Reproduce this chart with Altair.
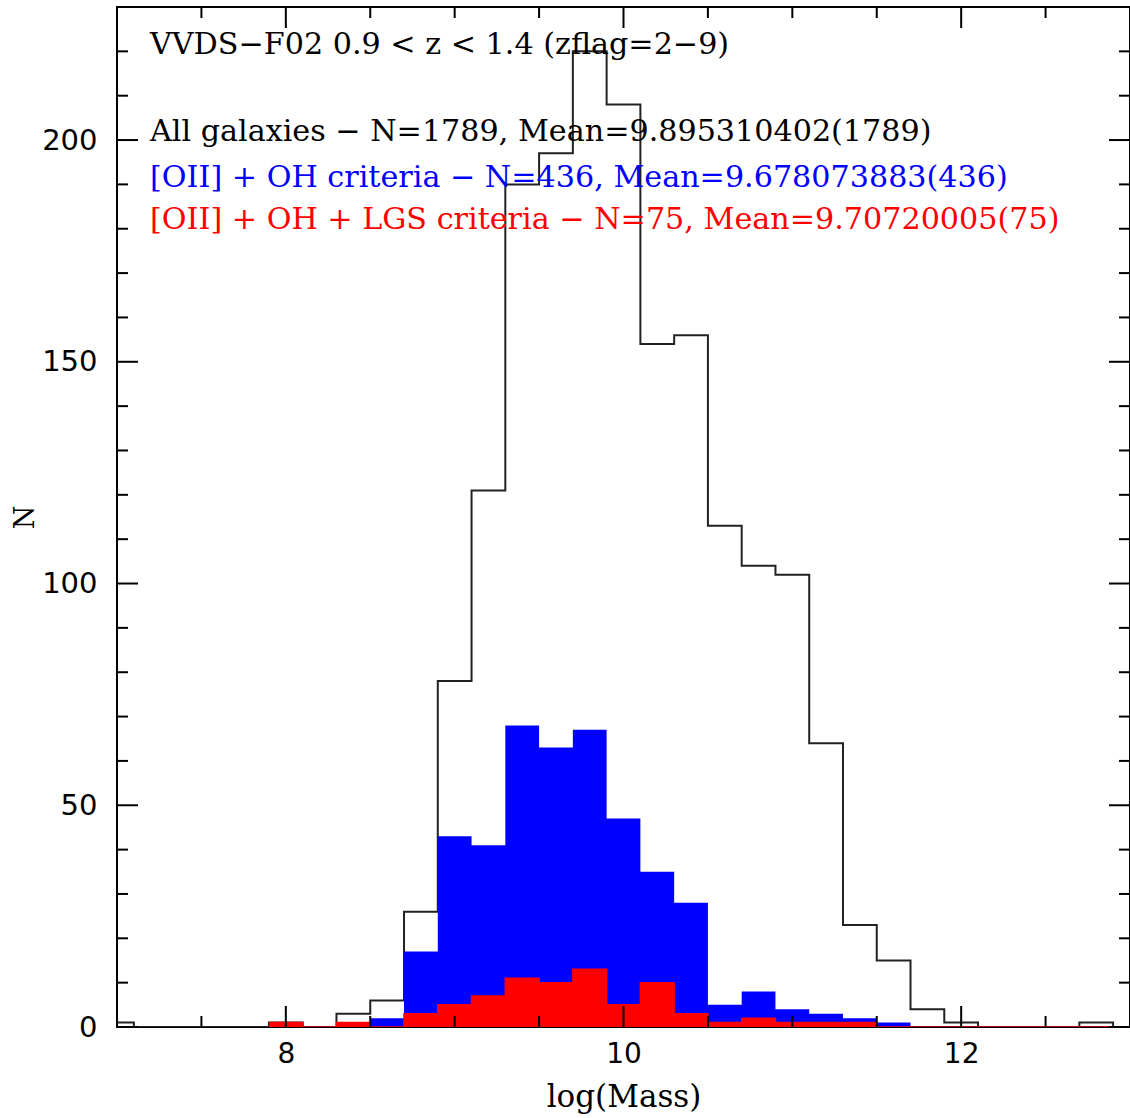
import altair as alt
import pandas as pd

# ---- data ----
bin_edges = [6.9, 7.1, 7.3, 7.5, 7.7, 7.9, 8.1, 8.3, 8.5, 8.7, 8.9, 9.1, 9.3, 9.5, 9.7, 9.9,
             10.1, 10.3, 10.5, 10.7, 10.9, 11.1, 11.3, 11.5, 11.7, 11.9, 12.1, 12.3, 12.5,
             12.7, 12.9, 13.1]
all_counts = [1, 0, 0, 0, 0, 1, 0, 3, 6, 26, 78, 121, 190, 197, 220, 208,
              154, 156, 113, 104, 102, 64, 23, 15, 4, 1, 0, 0, 0, 1, 0]
oh_counts = [0, 0, 0, 0, 0, 1, 0, 1, 2, 17, 43, 41, 68, 63, 67, 47,
             35, 28, 5, 8, 4, 3, 2, 1, 0, 0, 0, 0, 0, 0, 0]
lgs_counts = [0, 0, 0, 0, 0, 1, 0, 1, 0, 3, 5, 7, 11, 10, 13, 5,
              10, 3, 1, 2, 1, 1, 1, 0, 0, 0, 0, 0, 0, 0, 0]

x_major = [8, 10, 12]
x_minor = [7.5, 8.5, 9, 9.5, 10.5, 11, 11.5, 12.5]
y_major = [0, 50, 100, 150, 200]
y_minor = [10, 20, 30, 40, 60, 70, 80, 90, 110, 120, 130, 140, 160, 170, 180, 190, 210, 220]

title_text = "VVDS\u2212F02 0.9 < z < 1.4 (zflag=2\u22129)"
all_text = "All galaxies \u2212 N=1789, Mean=9.895310402(1789)"
oh_text = "[OII] + OH criteria \u2212 N=436, Mean=9.678073883(436)"
lgs_text = "[OII] + OH + LGS criteria \u2212 N=75, Mean=9.70720005(75)"

W, H = 1013, 1020
MAJ, MIN = 21, 11

hist = pd.DataFrame({
    "edge": bin_edges,
    "all": all_counts + [0],
    "oh": oh_counts + [0],
    "lgs": lgs_counts + [0],
})

xs = alt.Scale(domain=[7, 13], nice=False, zero=False)
ys = alt.Scale(domain=[0, 230], nice=False)
xaxis = alt.Axis(values=x_major, ticks=False, domain=False, grid=False, format="d",
                 labelFont="DejaVu Sans", labelFontSize=28, labelPadding=13,
                 labelColor="black", titleFont="DejaVu Serif", titleFontSize=31,
                 titleFontWeight="normal", titleColor="black", titlePadding=14)
yaxis = alt.Axis(values=y_major, ticks=False, domain=False, grid=False, format="d",
                 labelFont="DejaVu Sans", labelFontSize=29, labelPadding=20,
                 labelColor="black", titleFont="DejaVu Serif", titleFontSize=27,
                 titleFontWeight="normal", titleColor="black", titlePadding=2)


def X(field):
    return alt.X(field, scale=xs, axis=xaxis, title="log(Mass)")


def Y(field):
    return alt.Y(field, scale=ys, axis=yaxis, title="N")


base = alt.Chart(hist)
black = base.mark_line(interpolate="step-after", color="#222222", strokeWidth=2,
                       clip=True).encode(x=X("edge:Q"), y=Y("all:Q"))
blue = base.mark_area(interpolate="step-after", color="#0000ff", opacity=1,
                      clip=True).encode(x=X("edge:Q"), y=Y("oh:Q"))
red = base.mark_area(interpolate="step-after", color="#ff0000", opacity=1,
                     clip=True).encode(x=X("edge:Q"), y=Y("lgs:Q"))
redline = base.transform_filter("datum.edge >= 7.85").mark_line(
    interpolate="step-after", color="#ff0000", strokeWidth=1.5, clip=True
).encode(x=X("edge:Q"), y=Y("lgs:Q"))


def xticks(vals, length):
    df = pd.DataFrame({"v": vals})
    c = alt.Chart(df).mark_rule(color="black", strokeWidth=2)
    bot = c.encode(x=X("v:Q"), y=alt.value(H), y2=alt.value(H - length))
    top = c.encode(x=X("v:Q"), y=alt.value(0), y2=alt.value(length))
    return [bot, top]


def yticks(vals, length):
    df = pd.DataFrame({"v": vals})
    c = alt.Chart(df).mark_rule(color="black", strokeWidth=2)
    left = c.encode(y=Y("v:Q"), x=alt.value(0), x2=alt.value(length))
    right = c.encode(y=Y("v:Q"), x=alt.value(W), x2=alt.value(W - length))
    return [left, right]


def label(text, color, ypix):
    return alt.Chart(pd.DataFrame({"t": [text]})).mark_text(
        align="left", baseline="middle", font="DejaVu Serif", fontSize=30.2, color=color
    ).encode(x=alt.value(33), y=alt.value(ypix), text="t:N")


layers = [black, blue, red, redline]
layers += xticks(x_major, MAJ) + xticks(x_minor, MIN)
layers += yticks(y_major, MAJ) + yticks(y_minor, MIN)
layers += [
    label(title_text, "black", 38),
    label(all_text, "black", 125),
    label(oh_text, "#0000ff", 171),
    label(lgs_text, "#ff0000", 213),
]

chart = alt.layer(*layers).properties(
    width=W, height=H,
    padding={"left": 117, "top": 7, "right": 0, "bottom": 91},
    autosize=alt.AutoSizeParams(type="none"),
    background="white",
).configure_view(stroke="black", strokeWidth=2)

chart.save("out.html", embed_options={"renderer": "svg", "actions": False})
